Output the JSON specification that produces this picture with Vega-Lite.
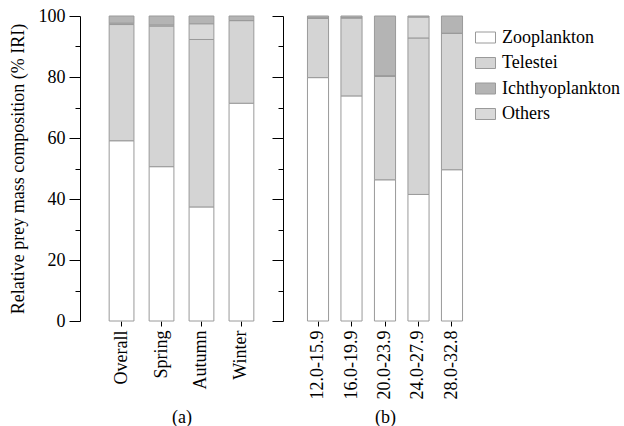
{
  "$schema": "https://vega.github.io/schema/vega-lite/v6.json",
  "padding": {"left": 9, "top": 7, "right": 0, "bottom": 0},
  "bounds": "flush",
  "config": {
    "font": "Liberation Serif",
    "view": {"stroke": null},
    "concat": {"spacing": 0},
    "legend": {"labelFont": "Liberation Serif", "labelFontSize": 18, "labelColor": "#000"},
    "axis": {
      "domainColor": "#000",
      "tickColor": "#000",
      "labelColor": "#000",
      "titleColor": "#000",
      "labelFont": "Liberation Serif",
      "titleFont": "Liberation Serif",
      "labelFontSize": 18,
      "titleFontSize": 18,
      "titleFontWeight": "normal",
      "grid": false
    }
  },
  "datasets": {
    "a": [
      {"group": "Overall", "prey": "Zooplankton", "value": 59.1},
      {"group": "Overall", "prey": "Telestei", "value": 38.1},
      {"group": "Overall", "prey": "Ichthyoplankton", "value": 2.4},
      {"group": "Overall", "prey": "Others", "value": 0.4},
      {"group": "Spring", "prey": "Zooplankton", "value": 50.6},
      {"group": "Spring", "prey": "Telestei", "value": 46.1},
      {"group": "Spring", "prey": "Ichthyoplankton", "value": 3.0},
      {"group": "Spring", "prey": "Others", "value": 0.3},
      {"group": "Autumn", "prey": "Zooplankton", "value": 37.4},
      {"group": "Autumn", "prey": "Telestei", "value": 54.9},
      {"group": "Autumn", "prey": "Ichthyoplankton", "value": 2.6},
      {"group": "Autumn", "prey": "Others", "value": 5.1},
      {"group": "Winter", "prey": "Zooplankton", "value": 71.4},
      {"group": "Winter", "prey": "Telestei", "value": 27.1},
      {"group": "Winter", "prey": "Ichthyoplankton", "value": 1.5},
      {"group": "Winter", "prey": "Others", "value": 0}
    ],
    "b": [
      {"group": "12.0-15.9", "prey": "Zooplankton", "value": 79.8},
      {"group": "12.0-15.9", "prey": "Telestei", "value": 19.5},
      {"group": "12.0-15.9", "prey": "Ichthyoplankton", "value": 0.7},
      {"group": "12.0-15.9", "prey": "Others", "value": 0},
      {"group": "16.0-19.9", "prey": "Zooplankton", "value": 73.8},
      {"group": "16.0-19.9", "prey": "Telestei", "value": 25.6},
      {"group": "16.0-19.9", "prey": "Ichthyoplankton", "value": 0.6},
      {"group": "16.0-19.9", "prey": "Others", "value": 0},
      {"group": "20.0-23.9", "prey": "Zooplankton", "value": 46.3},
      {"group": "20.0-23.9", "prey": "Telestei", "value": 34.0},
      {"group": "20.0-23.9", "prey": "Ichthyoplankton", "value": 19.7},
      {"group": "20.0-23.9", "prey": "Others", "value": 0},
      {"group": "24.0-27.9", "prey": "Zooplankton", "value": 41.5},
      {"group": "24.0-27.9", "prey": "Telestei", "value": 51.3},
      {"group": "24.0-27.9", "prey": "Ichthyoplankton", "value": 0.4},
      {"group": "24.0-27.9", "prey": "Others", "value": 6.8},
      {"group": "28.0-32.8", "prey": "Zooplankton", "value": 49.6},
      {"group": "28.0-32.8", "prey": "Telestei", "value": 44.7},
      {"group": "28.0-32.8", "prey": "Ichthyoplankton", "value": 5.7},
      {"group": "28.0-32.8", "prey": "Others", "value": 0}
    ]
  },
  "hconcat": [
    {
      "data": {"name": "a"},
      "width": 203,
      "height": 305,
      "mark": {"type": "bar", "stroke": "#9a9a9a", "strokeWidth": 1},
      "encoding": {
        "x": {
          "field": "group", "type": "nominal",
          "sort": ["Overall", "Spring", "Autumn", "Winter"],
          "scale": {"paddingInner": 0.38, "paddingOuter": 0.73},
          "axis": {"title": "(a)", "labelAngle": -90, "domain": false, "tickSize": 5, "labelPadding": 4, "titleY": 96, "titleBaseline": "middle"}
        },
        "y": {
          "field": "value", "type": "quantitative", "stack": "zero",
          "scale": {"domain": [0, 100], "nice": false},
          "axis": {
            "title": "Relative prey mass composition (% IRI)",
            "values": [0, 10, 20, 30, 40, 50, 60, 70, 80, 90, 100],
            "labelExpr": "datum.value % 20 === 0 ? datum.label : ''",
            "tickSize": {"condition": {"test": "datum.value % 20 === 0", "value": 11}, "value": 5},
            "labelPadding": 4,
            "titlePadding": 11
          }
        },
        "color": {
          "field": "prey", "type": "nominal",
          "sort": ["Zooplankton", "Telestei", "Ichthyoplankton", "Others"],
          "scale": {"domain": ["Zooplankton", "Telestei", "Ichthyoplankton", "Others"], "range": ["#ffffff", "#d4d4d4", "#b4b4b4", "#d9d9d9"]},
          "legend": {
            "title": null, "orient": "none", "legendX": 395, "legendY": 11,
            "labelFontSize": 18, "labelFont": "Liberation Serif", "labelColor": "#000",
            "symbolType": "M-1,-0.55H1V0.55H-1Z", "symbolSize": 400,
            "symbolStrokeColor": "#9a9a9a", "symbolStrokeWidth": 1, "symbolOpacity": 1,
            "labelOffset": 6, "rowPadding": 5.5
          }
        },
        "order": {"field": "prey", "sort": "descending"}
      }
    },
    {
      "data": {"name": "b"},
      "width": 204,
      "height": 305,
      "mark": {"type": "bar", "stroke": "#9a9a9a", "strokeWidth": 1},
      "encoding": {
        "x": {
          "field": "group", "type": "nominal",
          "sort": ["12.0-15.9", "16.0-19.9", "20.0-23.9", "24.0-27.9", "28.0-32.8"],
          "scale": {"paddingInner": 0.37, "paddingOuter": 0.73},
          "axis": {"title": "(b)", "labelAngle": -90, "domain": false, "tickSize": 5, "labelPadding": 4, "titleY": 96, "titleBaseline": "middle"}
        },
        "y": {
          "field": "value", "type": "quantitative", "stack": "zero",
          "scale": {"domain": [0, 100], "nice": false},
          "axis": {
            "title": null,
            "labels": false,
            "values": [0, 10, 20, 30, 40, 50, 60, 70, 80, 90, 100],
            "tickSize": {"condition": {"test": "datum.value % 20 === 0", "value": 11}, "value": 5}
          }
        },
        "color": {
          "field": "prey", "type": "nominal",
          "sort": ["Zooplankton", "Telestei", "Ichthyoplankton", "Others"],
          "scale": {"domain": ["Zooplankton", "Telestei", "Ichthyoplankton", "Others"], "range": ["#ffffff", "#d4d4d4", "#b4b4b4", "#d9d9d9"]}
        },
        "order": {"field": "prey", "sort": "descending"}
      }
    }
  ]
}
